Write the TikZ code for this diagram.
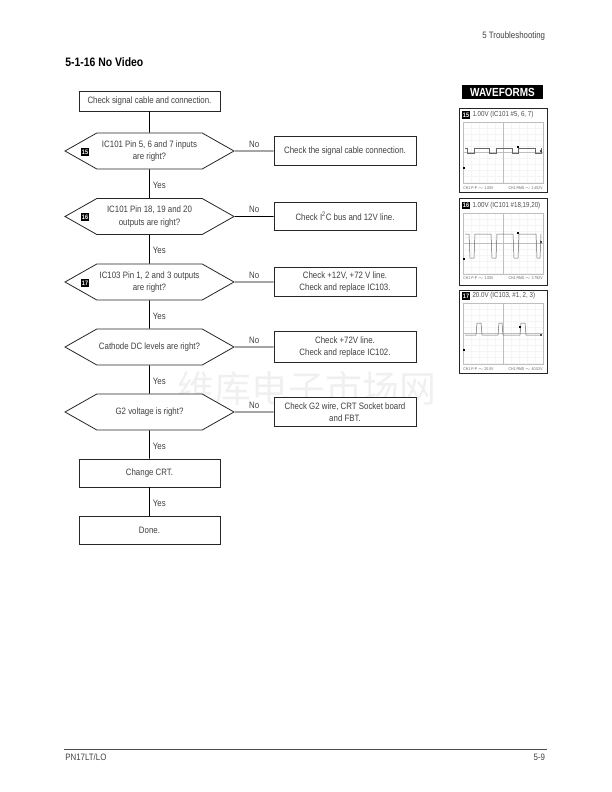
\documentclass[tikz,border=0pt]{standalone}
\usepackage{fontspec}
\setmainfont{Liberation Sans}[FakeStretch=0.85]
\newfontfamily\cjkfont{Noto Sans CJK SC}
\usetikzlibrary{positioning, shapes.symbols}

\begin{document}
\begin{tikzpicture}[
    x=1bp, y=-1bp,
    line width=0.8bp,
    step box/.style={rectangle, draw=black!85, fill=white, inner sep=0pt, font=\fontsize{9.3}{11.8}\selectfont, text=black!75, align=center},
    check node/.style={step box, minimum width=141bp, minimum height=28bp},
    fix node/.style={step box, minimum width=142bp, minimum height=28.5bp},
    ask node/.style={signal, signal to=west and east, signal pointer angle=59, draw=black!85, fill=white, inner sep=0pt, minimum width=169bp, minimum height=36bp, font=\fontsize{9.3}{12.3}\selectfont, text=black!75, align=center},
    badge node/.style={rectangle, fill=black, text=white, inner sep=0pt, minimum width=8.5bp, minimum height=8.5bp, font=\fontsize{6.5}{7}\bfseries\selectfont},
    flow label/.style={inner sep=0pt, font=\fontsize{9.3}{10}\selectfont, text=black!75},
    page label/.style={inner sep=0pt, font=\fontsize{9.3}{10}\selectfont, text=black!75},
    scope frame/.style={rectangle, draw=black!85, line width=1bp, fill=white, inner sep=0pt, minimum width=88bp},
    scope title/.style={inner sep=0pt, anchor=west, font=\fontsize{7.3}{8}\selectfont, text=black!70},
    scope note/.style={inner sep=0pt, font=\fontsize{4.1}{5}\selectfont, text=black!60},
    trace/.style={black!60, line width=0.5bp},
    grid line/.style={black!25, line width=0.35bp},
    marker/.style={fill=black, draw=none, inner sep=0pt, minimum size=2.5bp},
    tick/.style={fill=black!70, draw=none, inner sep=0pt, minimum size=1.2bp}
]
    \useasboundingbox (0,0) rectangle (612,792);

    % Page header and footer
    \node[page label, anchor=east] (header) at (545.5,36) {5 Troubleshooting};
    \node[anchor=west, inner sep=0pt, font=\fontsize{12.3}{13}\bfseries\selectfont] (title) at (65,62) {5-1-16 No Video};
    \coordinate (footL) at (64,749);
    \coordinate (footR) at (547,749);
    \draw[black!70, line width=1bp] (footL) -- (footR);
    \node[page label, anchor=west] (model) at (65,757) {PN17LT/LO};
    \node[page label, anchor=east] (pageno) at (545.5,757) {5-9};

    % Watermark
    \node[inner sep=0pt, font=\cjkfont\fontsize{37}{38}\selectfont, text=black!6] (mark) at (307,388) {维库电子市场网};

    % Main column
    \node[check node, minimum height=20bp] (C0) at (149.5,101) {Check signal cable and connection.};
    \node[ask node] (Q1) at (149.5,151) {IC101 Pin 5, 6 and 7 inputs\\are right?};
    \node[ask node] (Q2) at (149.5,216.5) {IC101 Pin 18, 19 and 20\\outputs are right?};
    \node[ask node] (Q3) at (149.5,282) {IC103 Pin 1, 2 and 3 outputs\\are right?};
    \node[ask node] (Q4) at (149.5,347) {Cathode DC levels are right?};
    \node[ask node] (Q5) at (149.5,412) {G2 voltage is right?};
    \node[check node] (C1) at (149.5,473) {Change CRT.};
    \node[check node] (C2) at (149.5,530) {Done.};

    % Badges
    \node[badge node] (B1) at (85,152) {15};
    \node[badge node] (B2) at (85,217) {16};
    \node[badge node] (B3) at (85,283) {17};

    % Right column
    \node[fix node] (F1) at (345,151) {Check the signal cable connection.};
    \node[fix node] (F2) at (345,216.5) {Check I\textsuperscript{2}C bus and 12V line.};
    \node[fix node] (F3) at (345,282) {Check +12V, +72 V line.\\Check and replace IC103.};
    \node[fix node, minimum height=31bp] (F4) at (345,347) {Check +72V line.\\Check and replace IC102.};
    \node[fix node] (F5) at (345,412) {Check G2 wire, CRT Socket board\\and FBT.};

    % Edges
    \draw (C0) -- (Q1);
    \draw (Q1) -- node[flow label, right=3bp, yshift=-1.5bp] {Yes} (Q2);
    \draw (Q2) -- node[flow label, right=3bp, yshift=-1.5bp] {Yes} (Q3);
    \draw (Q3) -- node[flow label, right=3bp, yshift=-1.5bp] {Yes} (Q4);
    \draw (Q4) -- node[flow label, right=3bp, yshift=-1.5bp] {Yes} (Q5);
    \draw (Q5) -- node[flow label, right=3bp, yshift=-1.5bp] {Yes} (C1);
    \draw (C1) -- node[flow label, right=3bp, yshift=-1.5bp] {Yes} (C2);
    \foreach \i in {1,...,5}
        \draw (Q\i) -- node[flow label, above=3.5bp] {No} (F\i);

    % Waveforms
    \node[rectangle, fill=black, text=white, inner sep=0pt, minimum width=81bp, minimum height=14bp, font=\fontsize{11.8}{12}\bfseries\selectfont] (W0) at (502.5,92) {WAVEFORMS};

    \foreach \n/\yc/\hh/\yt/\yg/\yn/\lab/\pp/\rms in {
        {15/150.25/84.5/115/122/188/1.00V (IC101 \#5, 6, 7)/1.00V/2.452V},
        {16/241.5/87/205.5/213/278/1.00V (IC101 \#18,19,20)/1.00V/2.792V},
        {17/331.5/83/296/303/369/20.0V (IC103, \#1, 2, 3)/20.0V/40.52V}} {
        \node[scope frame, minimum height=\hh bp] (S\n) at (503,\yc) {};
        \node[badge node, minimum width=8.5bp, minimum height=7.5bp] (SB\n) at (466,\yt) {\n};
        \node[scope title] (ST\n) at ([xshift=1.5bp]SB\n.east) {\lab};
        \node[scope note, anchor=west] (SL\n) at (463,\yn) {CH1 P-P $\sim$ \pp};
        \node[scope note, anchor=east] (SR\n) at (543,\yn) {CH1 RMS $\sim$ \rms};
        \begin{scope}[shift={(463,\yg)}]
            \foreach \gx in {8,16,...,72}
                \draw[black!4, line width=0.25bp] (\gx,0) -- (\gx,61);
            \foreach \gy in {6,12,...,60}
                \draw[black!4, line width=0.25bp] (0,\gy) -- (80,\gy);
            \draw[grid line] (0,0) rectangle (80,61);
            \draw[grid line] (40,0) -- (40,61);
            \draw[grid line] (0,30.5) -- (80,30.5);
        \end{scope}
    }

    % Traces
    \begin{scope}[shift={(463,122)}]
        \draw[trace] (2,26) -- (4,26) -- (4,31) -- (11,31) -- (11,26) -- (26,26) -- (26,31) -- (33,31) -- (33,26) -- (49,26) -- (49,31) -- (55,31) -- (55,26) -- (72,26) -- (72,31) -- (78,31) -- (78,26);
        \node[marker] (M1a) at (1,46) {};
        \node[marker] (M1b) at (55,25) {};
        \node[tick] (M1c) at (78,29) {};
    \end{scope}
    \begin{scope}[shift={(463,213)}]
        \draw[trace] (2,21) -- (6,21) -- (7,45) -- (11,45) -- (12,21) -- (28,21) -- (29,45) -- (33,45) -- (34,21) -- (50,21) -- (51,45) -- (55,45) -- (56,21) -- (73,21) -- (74,45) -- (77,45) -- (78,21);
        \node[marker] (M2a) at (1,46) {};
        \node[marker] (M2b) at (55,20) {};
        \node[tick] (M2c) at (78,29) {};
    \end{scope}
    \begin{scope}[shift={(463,303)}]
        \draw[trace] (2,32) -- (13,32) -- (14,20) -- (18,20) -- (19,32) -- (35,32) -- (36,20) -- (39,20) -- (40,32) -- (57,32) -- (58,20) -- (62,20) -- (63,32) -- (77,32);
        \node[marker] (M3a) at (1,47) {};
        \node[marker] (M3b) at (57,24) {};
        \node[tick] (M3c) at (78,32) {};
    \end{scope}
\end{tikzpicture}
\end{document}
